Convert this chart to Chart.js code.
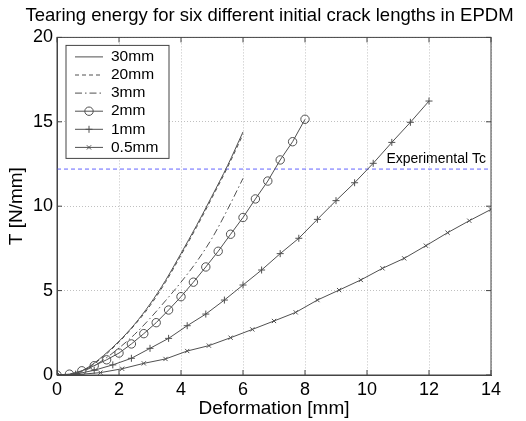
<!DOCTYPE html>
<html><head><meta charset="utf-8">
<script src="https://cdn.jsdelivr.net/npm/chart.js@4"></script>
<style>html,body{margin:0;padding:0;background:#fff}#wrap{width:526px;height:421px}</style>
</head><body><div id="wrap"><canvas id="c" width="526" height="421"></canvas></div>
<script>
const titleText = 'Tearing energy for six different initial crack lengths in EPDM';
const xTitle = 'Deformation [mm]';
const yTitle = 'T [N/mm]';
const seriesLabels = ['30mm', '20mm', '3mm', '2mm', '1mm', '0.5mm'];

// curves without markers (30mm, 20mm, 3mm)
const xLines = [0, 0.5, 1, 1.5, 2, 2.5, 3, 3.5, 4, 4.5, 5, 5.5, 6];
const t30 = [0, 0.05, 0.45, 1.15, 2.0, 3.0, 4.2, 5.6, 7.2, 8.85, 10.6, 12.4, 14.4];
const t20 = [0, 0.05, 0.42, 1.1, 1.95, 2.95, 4.1, 5.5, 7.1, 8.75, 10.5, 12.3, 14.25];
const t3  = [0, 0.04, 0.35, 0.9, 1.6, 2.4, 3.35, 4.4, 5.5, 6.7, 8.1, 9.8, 11.65];

// 2mm (circles)
const x2 = [0, 0.4, 0.8, 1.2, 1.6, 2.0, 2.4, 2.8, 3.2, 3.6, 4.0, 4.4, 4.8, 5.2, 5.6, 6.0, 6.4, 6.8, 7.2, 7.6, 8.0];
const t2 = [0, 0.05, 0.25, 0.55, 0.9, 1.3, 1.84, 2.45, 3.1, 3.85, 4.64, 5.5, 6.4, 7.33, 8.34, 9.33, 10.43, 11.49, 12.74, 13.82, 15.15];

// 1mm (plus)
const x1 = [0, 0.6, 1.2, 1.8, 2.4, 3.0, 3.6, 4.2, 4.8, 5.4, 6.0, 6.6, 7.2, 7.8, 8.4, 9.0, 9.6, 10.2, 10.8, 11.4, 12.0];
const t1 = [0, 0.05, 0.28, 0.6, 0.99, 1.58, 2.17, 2.92, 3.61, 4.44, 5.33, 6.22, 7.19, 8.1, 9.22, 10.33, 11.39, 12.54, 13.78, 14.97, 16.23];

// 0.5mm (x)
const x05 = [0, 0.7, 1.4, 2.1, 2.8, 3.5, 4.2, 4.9, 5.6, 6.3, 7.0, 7.7, 8.4, 9.1, 9.8, 10.5, 11.2, 11.9, 12.6, 13.3, 14.0];
const t05 = [0, 0.03, 0.14, 0.37, 0.69, 0.95, 1.42, 1.74, 2.21, 2.7, 3.2, 3.71, 4.44, 5.03, 5.63, 6.32, 6.91, 7.66, 8.43, 9.14, 9.81];

// experimental critical tearing energy
const tcLabel = 'Experimental Tc';
const tcValue = 12.2;
const tcRange = [0, 14];

const xTicks = [0, 2, 4, 6, 8, 10, 12, 14];
const yTicks = [0, 5, 10, 15, 20];

const FONT = "'Liberation Sans', Arial, Helvetica, sans-serif";
const LINE = '#505050';

function pts(xs, ys) { return xs.map((x, i) => ({x: x, y: ys[i]})); }

const datasets = [
  {label: seriesLabels[0], data: pts(xLines, t30), borderColor: LINE, borderWidth: 1, borderDash: [], pointRadius: 0, cubicInterpolationMode: 'monotone'},
  {label: seriesLabels[1], data: pts(xLines, t20), borderColor: LINE, borderWidth: 1, borderDash: [4, 3], pointRadius: 0, cubicInterpolationMode: 'monotone'},
  {label: seriesLabels[2], data: pts(xLines, t3), borderColor: LINE, borderWidth: 1, borderDash: [7, 3, 1.5, 3], pointRadius: 0, cubicInterpolationMode: 'monotone'},
  {label: seriesLabels[3], data: pts(x2, t2), borderColor: LINE, borderWidth: 1, pointStyle: 'circle', pointRadius: 4.2, pointBorderColor: LINE, pointBackgroundColor: 'rgba(0,0,0,0)', pointBorderWidth: 1},
  {label: seriesLabels[4], data: pts(x1, t1), borderColor: LINE, borderWidth: 1, pointStyle: 'cross', pointRadius: 3.5, pointBorderColor: LINE, pointBorderWidth: 1},
  {label: seriesLabels[5], data: pts(x05, t05), borderColor: LINE, borderWidth: 1, pointStyle: 'crossRot', pointRadius: 3, pointBorderColor: LINE, pointBorderWidth: 1},
  {label: tcLabel, data: tcRange.map(x => ({x: x, y: tcValue})), borderColor: '#6464ff', borderWidth: 1, borderDash: [4, 3], pointRadius: 0}
];

const decor = {
  id: 'decor',
  afterLayout(chart) {
    // centre the figure title like the reference (slightly left of plot centre), without squeezing it
    const t = chart.titleBlock;
    if (t) { t.left = 0; t.right = 539; }
  },
  afterDraw(chart) {
    const ctx = chart.ctx;
    const a = chart.chartArea;
    const xs = chart.scales.x, ys = chart.scales.y;
    ctx.save();
    // box
    ctx.strokeStyle = '#444';
    ctx.lineWidth = 1;
    ctx.setLineDash([]);
    ctx.strokeRect(a.left, a.top, a.right - a.left, a.bottom - a.top);
    // inward ticks
    ctx.beginPath();
    xTicks.forEach(v => {
      const px = xs.getPixelForValue(v);
      ctx.moveTo(px, a.bottom); ctx.lineTo(px, a.bottom - 5);
      ctx.moveTo(px, a.top); ctx.lineTo(px, a.top + 5);
    });
    yTicks.forEach(v => {
      const py = ys.getPixelForValue(v);
      ctx.moveTo(a.left, py); ctx.lineTo(a.left + 5, py);
      ctx.moveTo(a.right, py); ctx.lineTo(a.right - 5, py);
    });
    ctx.stroke();
    // Tc label
    ctx.fillStyle = '#000';
    ctx.font = '14px ' + FONT;
    ctx.textAlign = 'right';
    ctx.textBaseline = 'middle';
    ctx.fillText(tcLabel, xs.getPixelForValue(tcRange[1]) - 5, ys.getPixelForValue(tcValue) - 10);
    // legend
    const lx = a.left + 9, ly = a.top + 8, lw = 103, lh = 113;
    ctx.fillStyle = '#fff';
    ctx.fillRect(lx, ly, lw, lh);
    ctx.strokeStyle = '#444';
    ctx.strokeRect(lx, ly, lw, lh);
    ctx.font = '15.5px ' + FONT;
    ctx.textAlign = 'left';
    for (let i = 0; i < 6; i++) {
      const ds = chart.data.datasets[i];
      const y = ly + 11.5 + i * 18.1;
      ctx.strokeStyle = ds.borderColor;
      ctx.lineWidth = 1;
      ctx.setLineDash(ds.borderDash || []);
      ctx.beginPath();
      ctx.moveTo(lx + 9, y); ctx.lineTo(lx + 37, y);
      ctx.stroke();
      ctx.setLineDash([]);
      if (ds.pointRadius > 0) {
        ctx.fillStyle = 'rgba(0,0,0,0)';
        Chart.helpers.drawPoint(ctx, {pointStyle: ds.pointStyle, radius: ds.pointRadius, borderWidth: 1, rotation: 0}, lx + 23, y);
      }
      ctx.fillStyle = '#000';
      ctx.fillText(ds.label, lx + 45, y);
    }
    ctx.restore();
  }
};

new Chart(document.getElementById('c'), {
  type: 'line',
  data: {datasets: datasets},
  options: {
    responsive: false,
    devicePixelRatio: 1,
    animation: false,
    layout: {padding: {left: 0, right: 35, top: 0, bottom: 0}},
    plugins: {
      legend: {display: false},
      tooltip: {enabled: false},
      title: {display: true, text: titleText, color: '#000',
        font: {family: FONT, size: 18.5, weight: 'normal'}, padding: {top: 4.4, bottom: 10.8}}
    },
    scales: {
      x: {
        type: 'linear', min: 0, max: 14,
        afterBuildTicks: s => { s.ticks = xTicks.map(v => ({value: v})); },
        ticks: {color: '#000', font: {family: FONT, size: 18}, padding: 4.5, maxRotation: 0, autoSkip: false},
        grid: {color: '#c0c0c0', drawTicks: false, lineWidth: 1},
        border: {display: true, color: '#444', dash: [1, 2]},
        title: {display: true, text: xTitle, color: '#000', font: {family: FONT, size: 19}, padding: {top: 0, bottom: 1}},
        afterFit: s => { s.height = 46; }
      },
      y: {
        type: 'linear', min: 0, max: 20,
        afterBuildTicks: s => { s.ticks = yTicks.map(v => ({value: v})); },
        ticks: {color: '#000', font: {family: FONT, size: 18}, padding: 4, autoSkip: false},
        grid: {color: '#c0c0c0', drawTicks: false, lineWidth: 1},
        border: {display: true, color: '#444', dash: [1, 2]},
        title: {display: true, text: yTitle, color: '#000', font: {family: FONT, size: 19}, padding: {top: 5.6, bottom: 0}},
        afterFit: s => { s.width = 57; }
      }
    }
  },
  plugins: [decor]
});
</script>
</body></html>
